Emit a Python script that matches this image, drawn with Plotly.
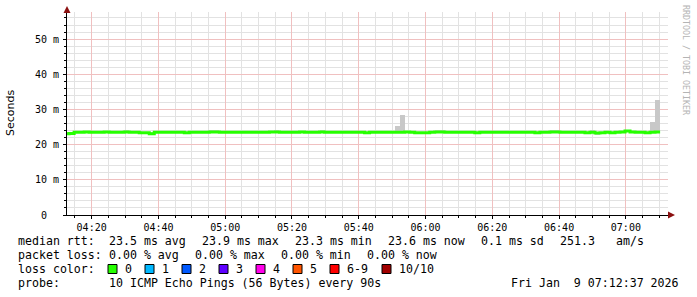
import plotly.graph_objects as go
import pandas as pd

# ---------------- data ----------------
bin_start = "2026-01-09 04:11:45"
step_seconds = 90
x_range = ["2026-01-09 04:12:37", "2026-01-09 07:12:37"]

median_ms = [
    23.1, 23.2, 23.5, 23.5, 23.6, 23.5, 23.5, 23.5, 23.6, 23.5,
    23.5, 23.5, 23.6, 23.5, 23.5, 23.4, 23.4, 23.1, 23.5, 23.5,
    23.5, 23.5, 23.5, 23.5, 23.4, 23.5, 23.5, 23.5, 23.5, 23.6,
    23.6, 23.5, 23.5, 23.5, 23.5, 23.5, 23.5, 23.5, 23.5, 23.5,
    23.5, 23.6, 23.6, 23.5, 23.5, 23.5, 23.5, 23.6, 23.5, 23.5,
    23.5, 23.6, 23.5, 23.5, 23.5, 23.5, 23.5, 23.5, 23.5, 23.5,
    23.4, 23.5, 23.5, 23.5, 23.5, 23.5, 23.5, 23.5, 23.6, 23.5,
    23.4, 23.4, 23.4, 23.5, 23.6, 23.6, 23.5, 23.5, 23.5, 23.5,
    23.5, 23.5, 23.4, 23.5, 23.5, 23.5, 23.5, 23.5, 23.5, 23.5,
    23.5, 23.5, 23.5, 23.5, 23.4, 23.5, 23.5, 23.6, 23.6, 23.5,
    23.5, 23.5, 23.5, 23.5, 23.4, 23.5, 23.3, 23.4, 23.5, 23.4,
    23.5, 23.6, 23.9, 23.6, 23.5, 23.5, 23.4, 23.5, 23.6,
]

smoke_high_ms = [
    23.4, 23.5, 23.8, 23.8, 23.9, 23.8, 23.8, 23.8, 23.9, 23.8,
    23.8, 23.8, 24.1, 23.8, 23.8, 23.7, 23.7, 23.5, 23.8, 23.8,
    23.8, 23.8, 23.8, 23.8, 23.7, 23.8, 23.8, 23.8, 23.8, 24.1,
    24.1, 23.8, 23.8, 23.8, 23.8, 23.8, 23.8, 23.8, 23.8, 23.8,
    23.8, 23.9, 24.1, 23.8, 23.8, 23.8, 23.8, 23.9, 23.8, 23.8,
    23.8, 24.1, 23.8, 23.8, 23.8, 23.8, 23.8, 23.8, 23.8, 23.8,
    23.7, 23.8, 23.8, 23.8, 23.8, 23.8, 25.3, 28.4, 23.9, 23.8,
    23.7, 23.7, 23.7, 23.8, 24.1, 24.1, 23.8, 23.8, 23.8, 23.8,
    23.8, 23.8, 23.7, 23.8, 23.8, 23.8, 23.8, 23.8, 23.8, 23.8,
    23.8, 23.8, 23.8, 23.8, 23.7, 23.8, 23.8, 24.1, 24.1, 23.8,
    23.8, 23.8, 23.8, 23.8, 23.7, 24.1, 23.6, 23.7, 23.8, 23.7,
    23.8, 23.9, 24.2, 23.9, 23.8, 23.8, 23.7, 26.4, 32.7,
]

smoke_low_ms = [
    22.9, 23.0, 23.2, 23.2, 23.3, 23.2, 23.2, 23.2, 23.3, 23.2,
    23.2, 23.2, 23.3, 23.2, 23.2, 23.1, 23.1, 22.9, 23.2, 23.2,
    23.2, 23.2, 23.2, 23.2, 23.1, 23.2, 23.2, 23.2, 23.2, 23.3,
    23.3, 23.2, 23.2, 23.2, 23.2, 23.2, 23.2, 23.2, 23.2, 23.2,
    23.2, 23.3, 23.3, 23.2, 23.2, 23.2, 23.2, 23.3, 23.2, 23.2,
    23.2, 23.3, 23.2, 23.2, 23.2, 23.2, 23.2, 23.2, 23.2, 23.2,
    23.1, 23.2, 23.2, 23.2, 23.2, 23.2, 23.2, 23.2, 23.3, 23.2,
    23.1, 23.1, 23.1, 23.2, 23.3, 23.3, 23.2, 23.2, 23.2, 23.2,
    23.2, 23.2, 23.1, 23.2, 23.2, 23.2, 23.2, 23.2, 23.2, 23.2,
    23.2, 23.2, 23.2, 23.2, 23.1, 23.2, 23.2, 23.3, 23.3, 23.2,
    23.2, 23.2, 23.2, 23.2, 23.1, 23.2, 22.8, 23.1, 23.2, 23.1,
    23.2, 23.3, 23.6, 23.3, 23.2, 23.2, 23.1, 23.2, 23.3,
]

y_tick_step = 10
y_tick_alias = {"0": "0\u00a0\u00a0", "10": "10 m", "20": "20 m", "30": "30 m",
                "40": "40 m", "50": "50 m"}
y_max = 57.7

legend_rtt = [("median rtt:", 16), ("23.5 ms avg", 107), ("23.9 ms max", 200),
              ("23.3 ms min", 293), ("23.6 ms now", 386), ("0.1 ms sd", 479),
              ("251.3", 558), ("am/s", 614)]
legend_loss = [("packet loss:", 16), ("0.00 % avg", 107), ("0.00 % max", 193),
               ("0.00 % min", 279), ("0.00 % now", 365)]
loss_labels = ["0", "1", "2", "3", "4", "5", "6-9", "10/10"]
loss_colors = ["#26ff00", "#00b8ff", "#0059ff", "#5e00ff", "#ff00ea", "#ff5500", "#ff0000", "#a10000"]
loss_swatch_x = [108, 145, 182, 219, 256, 293, 330, 382]
probe_text = "10 ICMP Echo Pings (56 Bytes) every 90s"
date_text = "Fri Jan  9 07:12:37 2026"
watermark = "RRDTOOL / TOBI OETIKER"

# ---------------- geometry helpers (pixel -> paper) ----------------
W, H = 697, 297
L, R, T, B = 67, 29, 12, 82
PW, PH = W - L - R, H - T - B


def px(x):
    return (x - L) / PW


def py(y):
    return (H - B - y) / PH


starts = pd.date_range(bin_start, periods=len(median_ms), freq=f"{step_seconds}s")
centers = starts + pd.Timedelta(seconds=step_seconds / 2)
line_x = list(starts) + [starts[-1] + pd.Timedelta(seconds=step_seconds)]
line_y = median_ms + [median_ms[-1]]

fig = go.Figure()
fig.add_trace(go.Bar(
    x=centers, y=[h - l for h, l in zip(smoke_high_ms, smoke_low_ms)], base=smoke_low_ms,
    width=step_seconds * 1000, marker=dict(color="#c8c8c8", line=dict(width=0)),
    hoverinfo="skip", showlegend=False,
))
fig.add_trace(go.Scatter(
    x=line_x, y=line_y, mode="lines", line=dict(color="#26ff00", width=3, shape="hv"),
    showlegend=False,
))

mono = "DejaVu Sans Mono"
major_grid = "#f0c0c0"
minor_grid = "#e2e2e2"

fig.update_layout(
    width=W, height=H, margin=dict(l=L, r=R, t=T, b=B, pad=0),
    paper_bgcolor="white", plot_bgcolor="white", bargap=0, showlegend=False,
    font=dict(family=mono, size=10, color="#000"),
    xaxis=dict(
        type="date", range=x_range, tickformat="%H:%M", tickmode="linear",
        dtick=20 * 60 * 1000, tick0="2026-01-09 04:20:00", showgrid=True,
        gridcolor=major_grid, gridwidth=1, showline=True, linecolor="#000",
        linewidth=1, ticks="outside", ticklen=3, tickcolor="#000",
        tickfont=dict(family=mono, size=10, color="#000"), zeroline=False, fixedrange=True,
        minor=dict(dtick=5 * 60 * 1000, tick0="2026-01-09 04:15:00", showgrid=True,
                   gridcolor=minor_grid, gridwidth=1,
                   ticks="outside", ticklen=2, tickcolor="#000"),
    ),
    yaxis=dict(
        range=[0, y_max], tickmode="linear", tick0=0, dtick=y_tick_step,
        labelalias=y_tick_alias, showgrid=True, gridcolor=major_grid,
        gridwidth=1, showline=True, linecolor="#000", linewidth=1,
        ticks="outside", ticklen=3, tickcolor="#000", ticklabelstandoff=2,
        tickfont=dict(family=mono, size=10, color="#000"), zeroline=False, fixedrange=True,
        minor=dict(dtick=2, tick0=0, showgrid=True, gridcolor=minor_grid,
                   gridwidth=1, ticks="outside", ticklen=2, tickcolor="#000"),
    ),
)

shapes = []
# axis arrows
shapes.append(dict(type="path", xref="paper", yref="paper",
                   path=f"M {px(675)},{py(215)} L {px(668)},{py(211.5)} L {px(668)},{py(218.5)} Z",
                   fillcolor="#8b1010", line=dict(width=0)))
shapes.append(dict(type="path", xref="paper", yref="paper",
                   path=f"M {px(67)},{py(6)} L {px(63.5)},{py(13)} L {px(70.5)},{py(13)} Z",
                   fillcolor="#8b1010", line=dict(width=0)))
# loss colour swatches
for xs, c in zip(loss_swatch_x, loss_colors):
    shapes.append(dict(type="rect", xref="paper", yref="paper",
                       x0=px(xs), x1=px(xs + 9), y0=py(264.5), y1=py(273.5),
                       fillcolor=c, line=dict(color="#000", width=1)))
fig.update_layout(shapes=shapes)

ann = []
lf = dict(family=mono, size=11.6, color="#000")


def text(t, x, y, anchor="left", font=lf, angle=0):
    ann.append(dict(text=t, x=px(x), y=py(y), xref="paper", yref="paper", showarrow=False,
                    xanchor=anchor, yanchor="middle", font=font, textangle=angle))


for t, x in legend_rtt:
    text(t, x, 241)
for t, x in legend_loss:
    text(t, x, 255)
text("loss color:", 16, 269)
for lab, xs in zip(loss_labels, loss_swatch_x):
    text(lab, xs + 15, 269)
text("probe:", 16, 283)
text(probe_text, 107, 283)
text(date_text, 681, 283, anchor="right")
text("Seconds", 11, 113, anchor="center",
     font=dict(family="DejaVu Sans", size=11, color="#000"), angle=-90)
text(watermark, 686, 60, anchor="center",
     font=dict(family=mono, size=8.3, color="#b4b4b4"), angle=90)
fig.update_layout(annotations=ann)

fig.write_html("out.html")
